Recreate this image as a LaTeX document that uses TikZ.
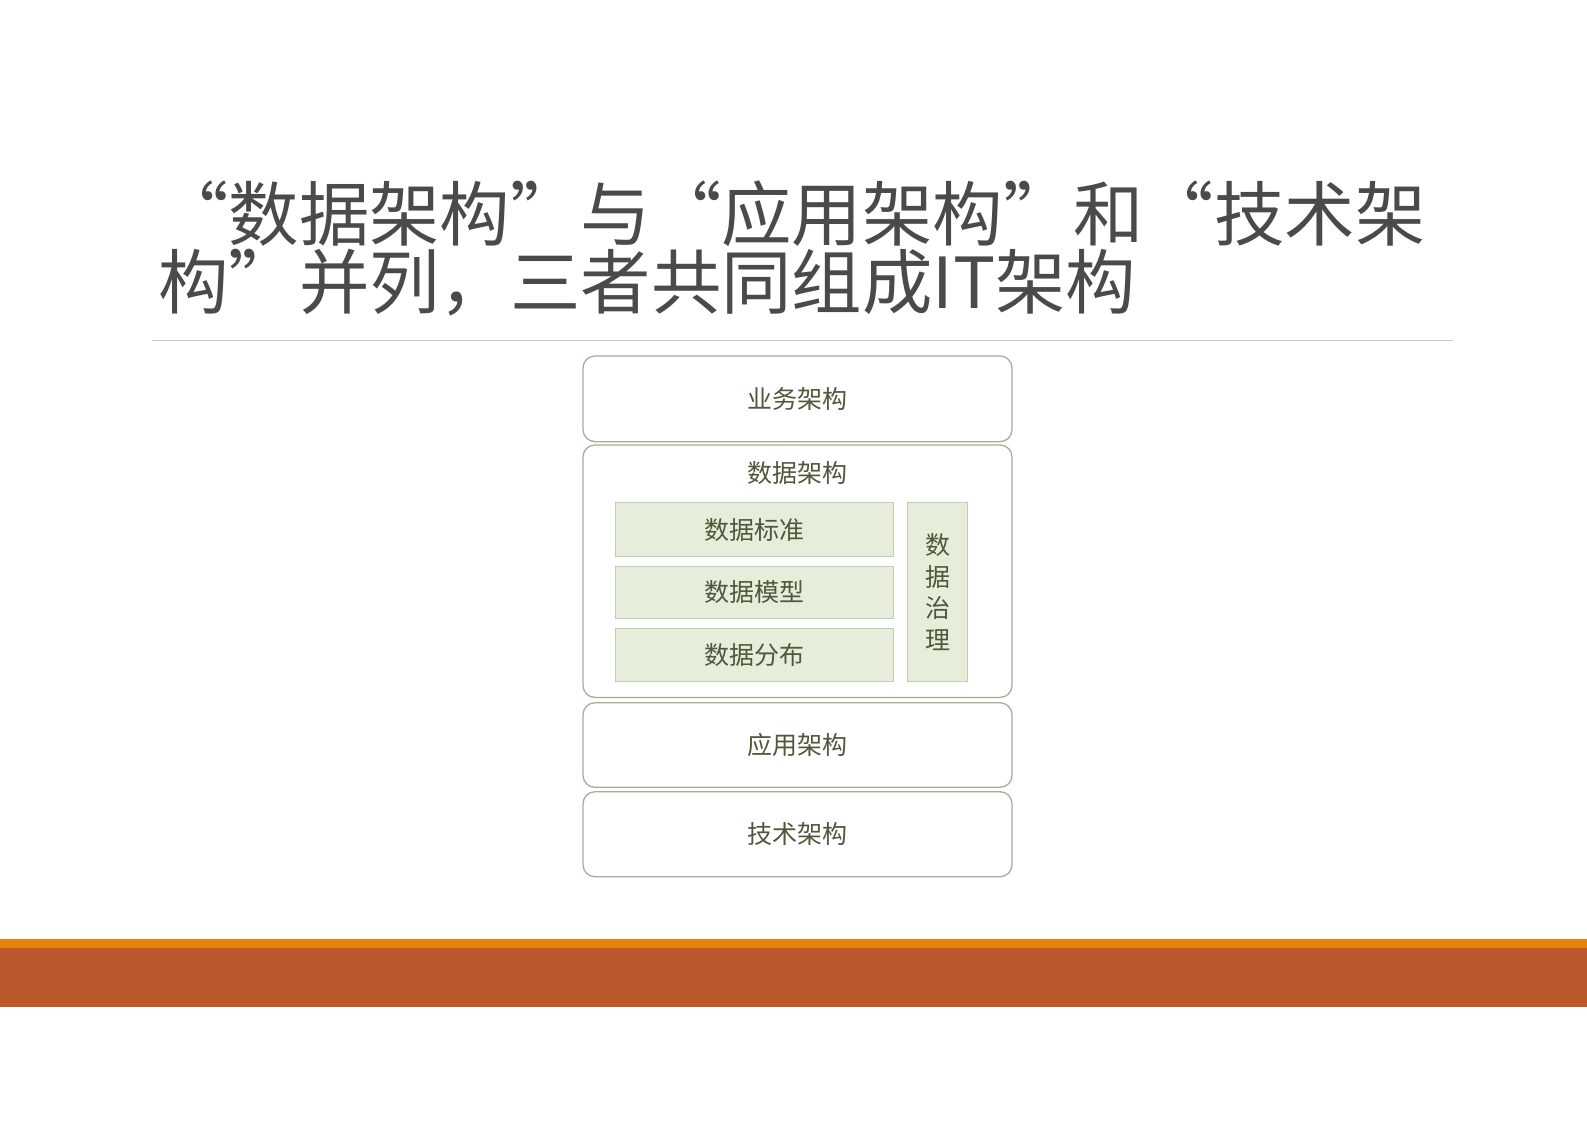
\documentclass[tikz,border=0pt]{standalone}
\usepackage{fontspec}
\newfontfamily\cjk{Noto Sans CJK SC}
\definecolor{titlegray}{HTML}{4A4A4A}
\definecolor{boxtext}{HTML}{4F583B}
\definecolor{outerline}{HTML}{A7AD98}
\definecolor{innerfill}{HTML}{E6EDDA}
\definecolor{innerline}{HTML}{C3CBB3}
\definecolor{barorange}{HTML}{E8820C}
\definecolor{barrust}{HTML}{BC582B}
\definecolor{rulegray}{HTML}{CCCCCC}
\tikzset{
  titletext/.style={anchor=base west, inner sep=0pt, text=titlegray, font=\cjk\fontsize{70.4}{70}\selectfont},
  outerbox/.style={draw=outerline, line width=1.3pt, rounded corners=12pt, fill=white, inner sep=0pt, minimum width=429pt},
  innerbox/.style={draw=innerline, line width=1pt, fill=innerfill, inner sep=0pt},
  boxlabel/.style={text=boxtext, font=\cjk\fontsize{25}{31.7}\selectfont, inner sep=0pt},
}
\begin{document}
\begin{tikzpicture}[x=1pt, y=-1pt]
\useasboundingbox (0,0) rectangle (1587,1122);
\fill[white] (0,0) rectangle (1587,1122);
% title
\node[titletext] (t1) at (158,240) {“数据架构”与“应用架构”和“技术架};
\node[titletext] (t2) at (158,308) {构”并列，三者共同组成IT架构};
\draw[rulegray, line width=1.8pt] (152,340.5) -- (1453,340.5);
% outer boxes
\node[outerbox, minimum height=85.7pt, boxlabel] (biz) at (797.5,398.8) {业务架构};
\node[outerbox, minimum height=252.5pt] (data) at (797.5,571.2) {};
\node[boxlabel, anchor=center] (datalbl) at (797.5,473) {数据架构};
\node[outerbox, minimum height=84.6pt, boxlabel] (app) at (797.5,745) {应用架构};
\node[outerbox, minimum height=85pt, boxlabel] (tech) at (797.5,834.2) {技术架构};
% inner boxes
\node[innerbox, minimum width=278.3pt, minimum height=54pt, boxlabel] (std) at (754.2,529.7) {数据标准};
\node[innerbox, minimum width=278.3pt, minimum height=52.3pt, boxlabel] (model) at (754.2,592.2) {数据模型};
\node[innerbox, minimum width=278.3pt, minimum height=53.4pt, boxlabel] (dist) at (754.2,655) {数据分布};
\node[innerbox, minimum width=59.8pt, minimum height=179pt] (gov) at (937.6,592.2) {};
\node[boxlabel, align=center] (govlbl) at (937.6,592.2) {数\\据\\治\\理};
% bottom bars
\fill[barorange] (0,939.3) rectangle (1587,948.3);
\fill[barrust] (0,948.3) rectangle (1587,1007.3);
\end{tikzpicture}
\end{document}
